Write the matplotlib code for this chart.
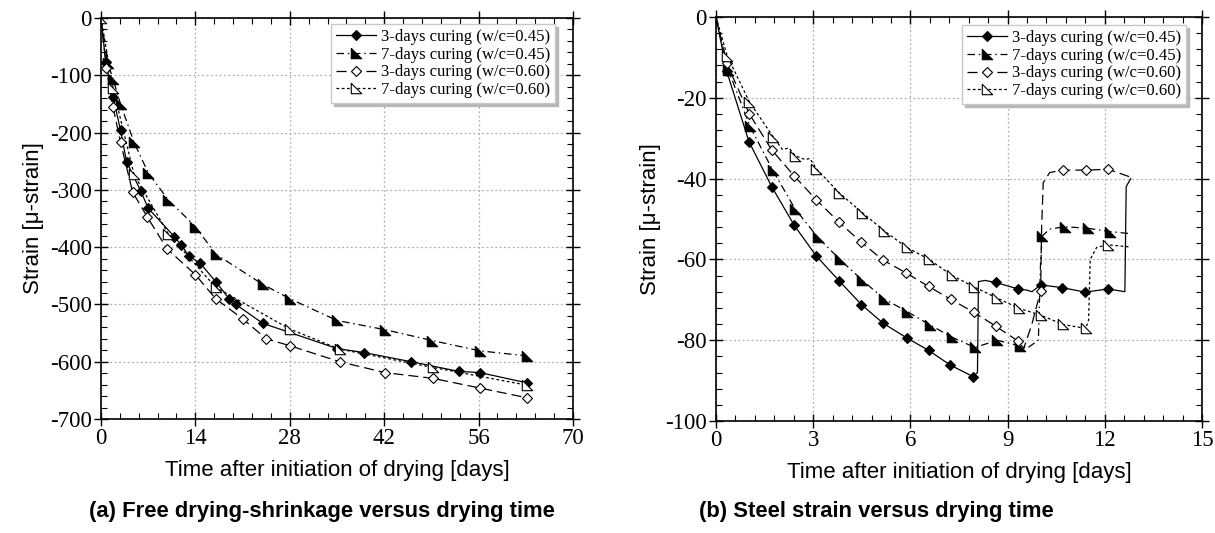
import matplotlib
matplotlib.use("Agg")
import matplotlib.pyplot as plt
from matplotlib.ticker import MultipleLocator
import numpy as np

plt.rcParams["axes.unicode_minus"] = False

# ---------------- data ----------------
labels = ["3-days curing (w/c=0.45)", "7-days curing (w/c=0.45)",
          "3-days curing (w/c=0.60)", "7-days curing (w/c=0.60)"]

# panel (a): free drying shrinkage
a1_x = [0, 0.7, 1.8, 2.9, 3.8, 5.9, 7.0, 10.9, 11.9, 13.0, 14.7, 17.0, 19.0, 20.0, 24.0, 35.0, 39.0, 46.0, 53.1, 56.2, 63.2]
a1_y = [0, -76, -138, -196, -251, -302, -332, -382, -396, -415, -428, -460, -490, -500, -533, -577, -584, -600, -617, -619, -637]
a2_x = [0, 1.0, 1.8, 2.9, 4.9, 7.0, 10.0, 14.0, 17.0, 24.0, 28.0, 35.0, 42.1, 49.1, 56.2, 63.2]
a2_y = [0, -78, -107, -150, -217, -270, -318, -364, -412, -465, -490, -528, -544, -563, -581, -590]
a3_x = [0, 0.8, 1.8, 2.9, 4.7, 6.9, 9.8, 14.0, 17.0, 21.0, 24.5, 28.0, 35.4, 42.1, 49.2, 56.2, 63.2]
a3_y = [0, -87, -156, -217, -304, -348, -403, -448, -490, -525, -560, -572, -600, -619, -629, -646, -663]
a4_x = [0, 1.8, 4.9, 10.0, 17.0, 28.0, 35.4, 49.2, 63.2]
a4_y = [0, -123, -273, -377, -470, -543, -578, -610, -641]
a_mark = [list(range(1, len(a1_x))), list(range(1, len(a2_x))),
          list(range(1, len(a3_x))), list(range(0, len(a4_x)))]

# panel (b): steel strain
b1_x = [0, 0.33, 1.02, 1.72, 2.41, 3.09, 3.80, 4.49, 5.16, 5.88, 6.56, 7.22, 7.93, 8.07, 8.10, 8.30,
        8.63, 9.32, 9.60, 9.75, 10.02, 10.69, 11.40, 12.10, 12.62, 12.66, 12.80]
b1_y = [0, -13.4, -30.9, -42.0, -51.5, -59.1, -65.3, -71.2, -75.8, -79.4, -82.5, -86.1, -89.0, -88.0, -65.5, -65.2,
        -65.7, -67.3, -67.6, -68.0, -66.3, -67.0, -68.1, -67.3, -68.0, -42.0, -40.0]
b1_m = [1, 2, 3, 4, 5, 6, 7, 8, 9, 10, 11, 12, 16, 17, 20, 21, 22, 23]

b2_x = [0, 0.38, 1.05, 1.75, 2.44, 3.14, 3.82, 4.51, 5.19, 5.90, 6.60, 7.27, 7.99, 8.30, 8.67, 9.37,
        9.60, 9.95, 10.02, 10.07, 10.30, 10.76, 11.48, 12.15, 12.75]
b2_y = [0, -13.1, -27.1, -37.9, -47.5, -54.5, -60.0, -65.1, -69.8, -72.9, -76.2, -79.2, -81.8, -81.0, -80.0, -81.4,
        -82.0, -80.0, -60.0, -54.2, -52.5, -51.9, -52.3, -53.1, -53.6]
b2_m = [1, 2, 3, 4, 5, 6, 7, 8, 9, 10, 11, 12, 14, 15, 19, 21, 22, 23]

b3_x = [0, 0.33, 1.03, 1.72, 2.41, 3.10, 3.80, 4.49, 5.16, 5.86, 6.56, 7.25, 7.96, 8.63, 9.32, 9.50,
        9.75, 10.02, 10.05, 10.10, 10.30, 10.71, 11.41, 12.10, 12.50, 12.75]
b3_y = [0, -11.5, -24.0, -32.9, -39.3, -45.3, -50.8, -55.8, -60.2, -63.3, -66.7, -69.9, -73.1, -76.5, -80.2, -82.0,
        -76.0, -67.8, -52.0, -41.0, -38.5, -37.9, -37.9, -37.7, -38.8, -39.5]
b3_m = [1, 2, 3, 4, 5, 6, 7, 8, 9, 10, 11, 12, 13, 14, 17, 21, 22, 23]

b4_x = [0, 0.35, 1.03, 1.76, 2.05, 2.25, 2.44, 2.75, 2.90, 3.10, 3.80, 4.51, 5.19, 5.88, 6.58, 7.27, 7.96,
        8.66, 9.35, 10.02, 10.71, 11.41, 11.50, 11.55, 11.75, 12.10, 12.77]
b4_y = [0, -9.7, -21.0, -29.6, -32.8, -32.4, -34.3, -35.3, -35.0, -37.6, -43.5, -48.4, -52.9, -57.0, -60.0, -63.9, -66.8,
        -69.5, -72.1, -73.8, -76.1, -77.1, -75.0, -60.0, -57.0, -56.4, -56.9]
b4_m = [1, 2, 3, 6, 9, 10, 11, 12, 13, 14, 15, 16, 17, 18, 19, 20, 21, 25]

# ---------------- style ----------------
serif = "Liberation Serif"
sans = "Liberation Sans"
tri = [(-1, 1), (-1, -1), (1, -1), (-1, 1)]
styles = [
    dict(ls="-", marker="D", mfc="black", ms=4.8),
    dict(ls=(0, (6, 3, 1.2, 3)), marker=tri, mfc="black", ms=7.5),
    dict(ls=(0, (8, 4)), marker="D", mfc="white", ms=4.8),
    dict(ls=(0, (2.2, 2)), marker=tri, mfc="white", ms=7.5),
]

fig = plt.figure(figsize=(12.15, 5.33), dpi=100)
ax_a = fig.add_axes([0.0831, 0.2139, 0.3885, 0.7523])
ax_b = fig.add_axes([0.5893, 0.2101, 0.4000, 0.7580])


def setup(ax, xlim, ylim, xmaj, ymaj, xmin, ymin, ylpad):
    ax.set_xlim(*xlim)
    ax.set_ylim(*ylim)
    ax.xaxis.set_major_locator(MultipleLocator(xmaj))
    ax.yaxis.set_major_locator(MultipleLocator(ymaj))
    ax.xaxis.set_minor_locator(MultipleLocator(xmin))
    ax.yaxis.set_minor_locator(MultipleLocator(ymin))
    ax.tick_params(which="major", direction="inout", length=10, width=1.0,
                   top=True, right=True, labelsize=16.5, pad=1.5)
    ax.tick_params(which="minor", direction="in", length=4, width=0.8,
                   top=True, right=True)
    for lab in ax.get_xticklabels() + ax.get_yticklabels():
        lab.set_fontfamily(serif)
    ax.grid(True, which="major", color="#b0b0b0", linestyle=(0, (1.5, 2)), linewidth=0.9)
    ax.set_axisbelow(True)
    for s in ax.spines.values():
        s.set_linewidth(1.2)
    ax.set_xlabel("Time after initiation of drying [days]", fontsize=16, fontfamily=sans, labelpad=8)
    ax.set_ylabel("Strain [\u03bc-strain]", fontsize=16, fontfamily=sans, labelpad=ylpad)


setup(ax_a, (0, 70), (-700, 0), 14, 100, 2.8, 20, 4)
setup(ax_b, (0, 15), (-100, 0), 3, 20, 0.6, 4, 3)

a_series = [(a1_x, a1_y), (a2_x, a2_y), (a3_x, a3_y), (a4_x, a4_y)]
for (xs, ys), st, lab, mk in zip(a_series, styles, labels, a_mark):
    ax_a.plot(xs, ys, color="black", lw=0.9, ls=st["ls"], marker=st["marker"],
              mfc=st["mfc"], mec="black", mew=0.8, ms=st["ms"], markevery=mk, label=lab)

b_series = [(b1_x, b1_y, b1_m), (b2_x, b2_y, b2_m), (b3_x, b3_y, b3_m), (b4_x, b4_y, b4_m)]
for (xs, ys, mk), st, lab in zip(b_series, styles, labels):
    ax_b.plot(xs, ys, color="black", lw=0.9, ls=st["ls"], marker=st["marker"],
              mfc=st["mfc"], mec="black", mew=0.8, ms=st["ms"], markevery=mk, label=lab)

for ax, anchor in [(ax_a, (0.962, 0.985)), (ax_b, (0.968, 0.980))]:
    leg = ax.legend(loc="upper right", bbox_to_anchor=anchor, borderaxespad=0,
                    prop={"family": serif, "size": 12}, frameon=True, fancybox=False,
                    shadow={"color": "#b8b8b8", "alpha": 1.0}, handlelength=2.4,
                    handletextpad=0.3, labelspacing=0.1, borderpad=0.3)
    leg.get_frame().set_edgecolor("#c8c8c8")
    leg.get_frame().set_linewidth(1.0)
    leg.get_frame().set_alpha(1.0)

fig.text(322 / 1215, 1 - 512 / 533, "(a) Free drying-shrinkage versus drying time",
         ha="center", va="center", fontsize=15.8, fontweight="bold", fontfamily=sans)
fig.text(876 / 1215, 1 - 512 / 533, "(b) Steel strain versus drying time",
         ha="center", va="center", fontsize=15.8, fontweight="bold", fontfamily=sans)

fig.savefig("out.png", dpi=100)
